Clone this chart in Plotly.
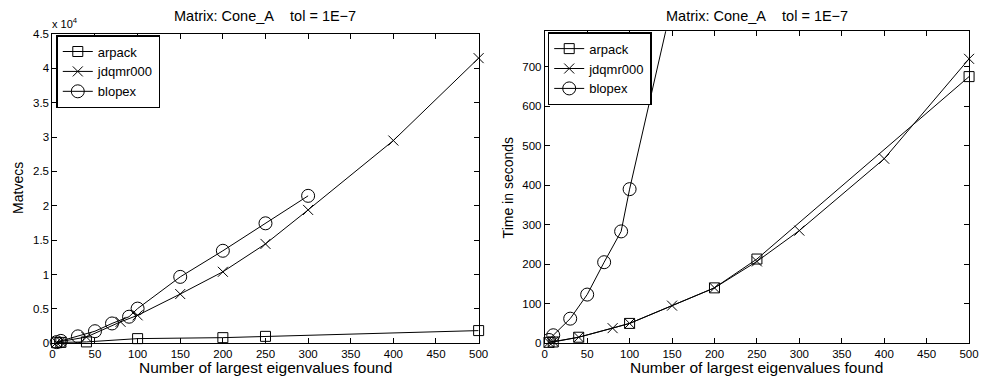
import plotly.graph_objects as go

# ---------------- data ----------------
# Left panel: matvecs
arpack_n_mv = [5, 10, 40, 100, 200, 250, 500]
arpack_mv = [60, 110, 180, 660, 800, 990, 1830]
jdqmr_n_mv = [5, 10, 40, 80, 100, 150, 200, 250, 300, 400, 500]
jdqmr_mv = [100, 250, 890, 3100, 4050, 7150, 10390, 14450, 19400, 29500, 41500]
blopex_n_mv = [5, 10, 30, 50, 70, 90, 100, 150, 200, 250, 300]
blopex_mv = [150, 330, 990, 1740, 2870, 3850, 5030, 9650, 13450, 17450, 21450]

# Right panel: time in seconds
arpack_n_t = [5, 10, 40, 100, 200, 250, 500]
arpack_t = [2, 3, 15, 50, 140, 213, 675]
jdqmr_n_t = [5, 10, 40, 80, 100, 150, 200, 250, 300, 400, 500]
jdqmr_t = [2, 4, 15, 38, 50, 95, 140, 207, 285, 467, 720]
blopex_n_t = [5, 10, 30, 50, 70, 90, 100, 150, 200, 250, 300]
blopex_t = [8, 20, 62, 123, 205, 283, 390, 860, 1500, 2300, 3300]

x_ticks = [0, 50, 100, 150, 200, 250, 300, 350, 400, 450, 500]
mv_ticks = [0, 5000, 10000, 15000, 20000, 25000, 30000, 35000, 40000, 45000]
mv_ticktext = ["0", "0.5", "1", "1.5", "2", "2.5", "3", "3.5", "4", "4.5"]
t_ticks = [0, 100, 200, 300, 400, 500, 600, 700]

title_text = "Matrix: Cone_A\u00a0\u00a0\u00a0\u00a0tol = 1E\u22127"
xlabel = "Number of largest eigenvalues found"

W, H = 984, 385
FONT = "Liberation Sans, Arial, sans-serif"

fig = go.Figure()

def add(xs, ys, name, symbol, size, xa, ya, legend, clip=False):
    fig.add_trace(go.Scatter(
        x=xs, y=ys, name=name, mode="lines+markers",
        line=dict(color="black", width=1),
        marker=dict(symbol=symbol, size=size, color="black",
                    line=dict(color="black", width=1)),
        xaxis=xa, yaxis=ya, legend=legend, cliponaxis=clip,
    ))

add(arpack_n_mv, arpack_mv, "arpack", "square-open", 10, "x", "y", "legend")
add(jdqmr_n_mv, jdqmr_mv, "jdqmr000", "x-thin-open", 10, "x", "y", "legend")
add(blopex_n_mv, blopex_mv, "blopex", "circle-open", 13, "x", "y", "legend")

add(arpack_n_t, arpack_t, "arpack", "square-open", 10, "x2", "y2", "legend2")
add(jdqmr_n_t, jdqmr_t, "jdqmr000", "x-thin-open", 10, "x2", "y2", "legend2")
add(blopex_n_t, blopex_t, "blopex", "circle-open", 13, "x2", "y2", "legend2", clip=True)

def px_x(p):
    return p / W

def px_y(p):
    return (H - p) / H

axis_common = dict(
    showline=True, linecolor="black", linewidth=1, mirror="allticks",
    ticks="inside", ticklen=5, tickcolor="black", tickwidth=1,
    showgrid=False, zeroline=False,
    tickfont=dict(family=FONT, size=11.5, color="black"),
)

legend_common = dict(
    xanchor="left", yanchor="top",
    bgcolor="white", bordercolor="black", borderwidth=1.5,
    font=dict(family=FONT, size=13, color="black"),
    itemwidth=30, tracegroupgap=0,
)

fig.update_layout(
    width=W, height=H,
    margin=dict(l=0, r=0, t=0, b=0),
    paper_bgcolor="white", plot_bgcolor="white",
    font=dict(family=FONT, color="black"),
    xaxis=dict(domain=[px_x(50), px_x(482)], anchor="y", range=[0, 500],
               tickvals=x_ticks, **axis_common),
    yaxis=dict(domain=[px_y(348), px_y(29)], anchor="x", range=[0, 45000],
               tickvals=mv_ticks, ticktext=mv_ticktext, **axis_common),
    xaxis2=dict(domain=[px_x(549), px_x(979)], anchor="y2", range=[0, 500],
                tickvals=x_ticks, **axis_common),
    yaxis2=dict(domain=[px_y(348), px_y(26)], anchor="x2", range=[0, 790],
                tickvals=t_ticks, **axis_common),
    legend=dict(x=px_x(54), y=px_y(30), **legend_common),
    legend2=dict(x=px_x(552), y=px_y(27), **legend_common),
    showlegend=True,
)

ann = []
for cx in (266, 764):
    ann.append(dict(text=title_text, x=px_x(cx), y=px_y(10), xref="paper", yref="paper",
                    showarrow=False, xanchor="center", yanchor="middle",
                    font=dict(family=FONT, size=14.5, color="black")))
    ann.append(dict(text=xlabel, x=px_x(cx), y=px_y(373), xref="paper", yref="paper",
                    showarrow=False, xanchor="center", yanchor="middle",
                    font=dict(family=FONT, size=15.5, color="black")))
ann.append(dict(text="Matvecs", x=px_x(15), y=px_y(188), xref="paper", yref="paper",
                showarrow=False, textangle=-90, xanchor="center", yanchor="middle",
                font=dict(family=FONT, size=14, color="black")))
ann.append(dict(text="Time in seconds", x=px_x(512), y=px_y(188), xref="paper", yref="paper",
                showarrow=False, textangle=-90, xanchor="center", yanchor="middle",
                font=dict(family=FONT, size=14, color="black")))
ann.append(dict(text="x 10<sup>4</sup>", x=px_x(48), y=px_y(18), xref="paper", yref="paper",
                showarrow=False, xanchor="left", yanchor="middle",
                font=dict(family=FONT, size=11, color="black")))

fig.update_layout(annotations=ann)

fig.write_html("out.html")
